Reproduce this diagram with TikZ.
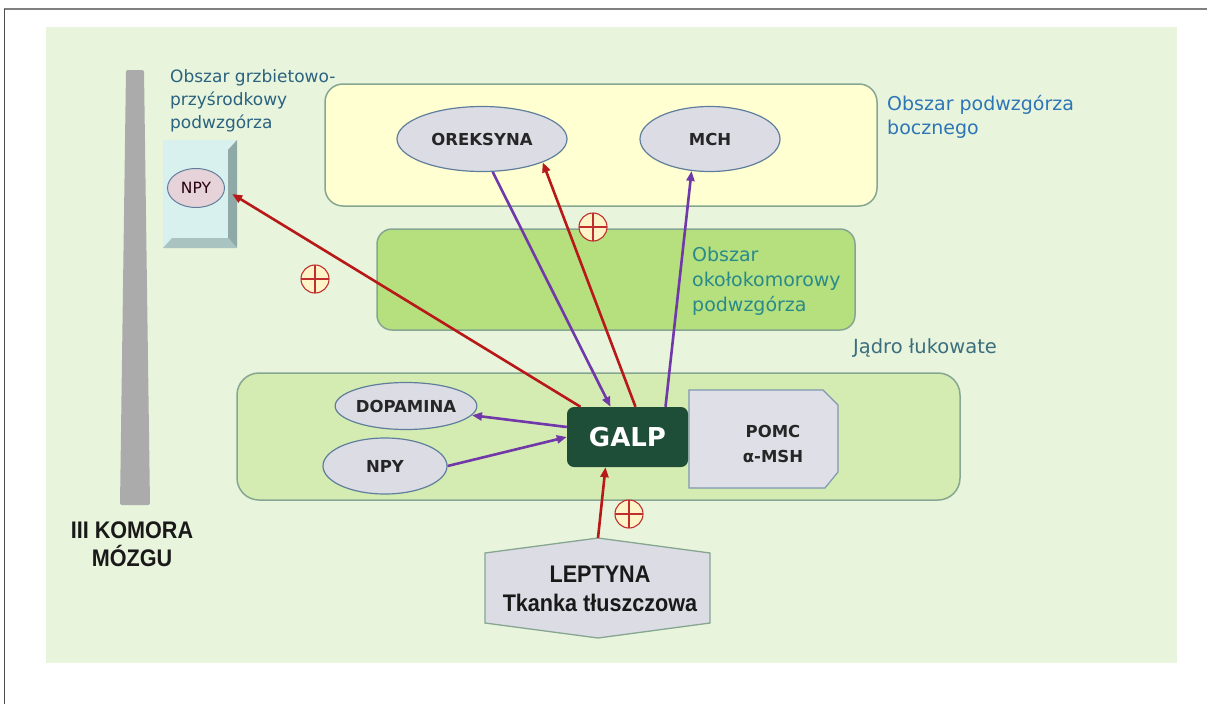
\documentclass[tikz,border=0pt]{standalone}
\usepackage{fontspec}
\setmainfont{DejaVu Sans}
\newfontfamily\narrowfont{Liberation Sans}[FakeStretch=0.9]
\usetikzlibrary{shapes.geometric,arrows.meta}

\definecolor{panel}{HTML}{E8F5DC}
\definecolor{lhafill}{HTML}{FFFFD2}
\definecolor{pvnfill}{HTML}{B6DF7E}
\definecolor{arcfill}{HTML}{D4ECB2}
\definecolor{boxedge}{HTML}{86A692}
\definecolor{ellfill}{HTML}{DCDCE4}
\definecolor{elledge}{HTML}{5F7E9B}
\definecolor{galpfill}{HTML}{1E4D38}
\definecolor{arrred}{HTML}{B81818}
\definecolor{arrpurple}{HTML}{7038A8}
\definecolor{dmhcol}{HTML}{2A6280}
\definecolor{lhacol}{HTML}{2E75B6}
\definecolor{pvncol}{HTML}{2A8A8A}
\definecolor{arccol}{HTML}{3B6E7E}
\definecolor{bargray}{HTML}{ABABAB}
\definecolor{dmhfill}{HTML}{D8F0EE}
\definecolor{dmhside}{HTML}{8FAAA6}
\definecolor{dmhbottom}{HTML}{A9C4C0}
\definecolor{plusfill}{HTML}{FFF4C8}

\begin{document}
\begin{tikzpicture}[x=1pt,y=-1pt,
  region/.style={draw=boxedge,line width=1.5pt},
  hormone/.style={ellipse,draw=elledge,line width=1.2pt,fill=ellfill,inner sep=0pt,
    font=\fontsize{16.5}{19}\selectfont\bfseries,text=black!85},
  redarr/.style={draw=arrred,line width=2.6pt,-{Triangle[length=10pt,width=8pt]}},
  purarr/.style={draw=arrpurple,line width=2.6pt,-{Triangle[length=10pt,width=8pt]}},
  areatext/.style={align=left,inner sep=0pt,anchor=north west}]
\useasboundingbox (0,0) rectangle (1207,704);
\fill[white] (0,0) rectangle (1207,704);
\draw[gray,line width=2pt] (4,9) -- (1207,9);
\draw[black!70,line width=1pt] (4,9) -- (4,704);
\fill[panel] (46,27) rectangle (1177,663);

% regions
\draw[region,fill=lhafill,rounded corners=18pt] (325,84) rectangle (877,206);
\draw[region,fill=pvnfill,rounded corners=15pt] (377,229) rectangle (855,330);
\draw[region,fill=arcfill,rounded corners=22pt] (237,373) rectangle (960,500);

% third ventricle
\fill[bargray,rounded corners=2pt] (126,70) -- (144,70) -- (150,505) -- (120,505) -- cycle;
\node[font=\narrowfont\bfseries\fontsize{24}{28}\selectfont,align=center,text=black!90]
  (komora) at (132,544) {III KOMORA\\MÓZGU};

% dorsomedial box
\node[fill=dmhfill,minimum width=74pt,minimum height=108pt,inner sep=0pt] (dmh) at (200,194) {};
\fill[dmhside] (228,150) -- (237,140) -- (237,248) -- (228,238) -- cycle;
\fill[dmhbottom] (163,248) -- (172,238) -- (228,238) -- (237,248) -- cycle;
\node[ellipse,draw=elledge,line width=1pt,fill=ellfill!70!pink,inner sep=0pt,
  minimum width=57pt,minimum height=39pt,text=black!80!purple,
  font=\fontsize{15.5}{18}\selectfont] (npydmh) at (196,188) {NPY};

% area labels
\node[areatext,text=dmhcol,font=\fontsize{17}{23}\selectfont] (dmhlabel) at (170,69)
  {Obszar grzbietowo-\\przyśrodkowy\\podwzgórza};
\node[areatext,text=lhacol,font=\fontsize{19}{24}\selectfont] (lhalabel) at (887,95)
  {Obszar podwzgórza\\bocznego};
\node[areatext,text=pvncol,font=\fontsize{19}{25}\selectfont] (pvnlabel) at (692,247)
  {Obszar\\okołokomorowy\\podwzgórza};
\node[anchor=base,inner sep=0pt,text=arccol,font=\fontsize{19.5}{23}\selectfont]
  (arclabel) at (925,353) {Jądro łukowate};

% neuron groups
\node[hormone,minimum width=170pt,minimum height=65pt] (orexin) at (482,139) {OREKSYNA};
\node[hormone,minimum width=140pt,minimum height=65pt] (mch) at (710,139) {MCH};
\node[hormone,minimum width=122pt,minimum height=47pt] (dopamina) at (406,406) {DOPAMINA};
\node[hormone,minimum width=124pt,minimum height=56pt] (npy) at (385,466) {NPY};

\draw[draw=elledge!80,line width=1.2pt,fill=ellfill!90!white]
  (689,390) -- (823,390) -- (838,405) -- (838,472) -- (825,488) -- (689,488) -- cycle;
\node[align=center,inner sep=0pt,font=\fontsize{16.5}{25}\selectfont\bfseries,text=black!85]
  (pomc) at (773,444) {POMC\\α-MSH};

\node[fill=galpfill,rounded corners=7pt,minimum width=121pt,minimum height=60pt,inner sep=0pt,
  text=white,font=\fontsize{26}{30}\selectfont\bfseries] (galp) at (627.5,437) {GALP};

% leptin source
\draw[draw=boxedge,line width=1.3pt,fill=ellfill]
  (485,553) -- (598,538) -- (710,553) -- (710,623) -- (598,638) -- (485,623) -- cycle;
\coordinate (leppeak) at (598,538);
\node[align=center,inner sep=0pt,font=\narrowfont\bfseries\fontsize{24}{29}\selectfont,text=black!90]
  (leptyna) at (600,589) {LEPTYNA\\Tkanka tłuszczowa};

% connections
\draw[redarr] ([xshift=-47pt]galp.north) -- ([xshift=-5pt]dmh.east);
\draw[redarr] ([xshift=8pt]galp.north) -- (orexin.-21);
\draw[purarr] (orexin.-72) -- ([xshift=-17pt]galp.north);
\draw[purarr] ([xshift=38pt]galp.north) -- (mch.-120);
\draw[purarr] ([yshift=10pt]galp.west) -- (dopamina.-8);
\draw[purarr] (npy.east) -- (galp.west);
\draw[redarr] (leppeak) -- ([xshift=-22pt]galp.south);

% stimulation marks
\foreach \p in {(315,279),(593,227),(629,514)}{
  \draw[arrred!90,line width=1.1pt,fill=plusfill] \p circle (14);
  \draw[arrred!90,line width=1.1pt] \p ++(-14,0) -- ++(28,0) \p ++(0,-14) -- ++(0,28);
}
\end{tikzpicture}
\end{document}
